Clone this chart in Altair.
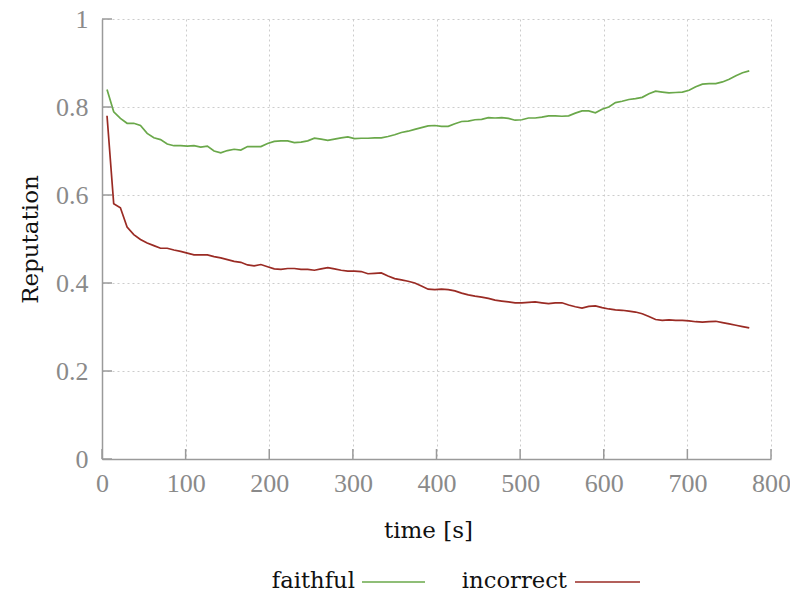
import altair as alt
import pandas as pd

# sample times [s]
time_s = [6 + 8 * k for k in range(97)]

faithful = [
    0.840, 0.789, 0.774, 0.763, 0.763, 0.758, 0.740, 0.730, 0.726, 0.716,
    0.712, 0.712, 0.711, 0.712, 0.709, 0.711, 0.700, 0.696, 0.701, 0.704,
    0.702, 0.710, 0.710, 0.710, 0.717, 0.722, 0.723, 0.723, 0.719, 0.720,
    0.723, 0.729, 0.727, 0.724, 0.727, 0.730, 0.732, 0.728, 0.729, 0.729,
    0.730, 0.730, 0.733, 0.737, 0.742, 0.745, 0.749, 0.753, 0.757, 0.758,
    0.756, 0.756, 0.762, 0.767, 0.768, 0.771, 0.772, 0.776, 0.775, 0.776,
    0.774, 0.770, 0.771, 0.775, 0.775, 0.777, 0.780, 0.780, 0.779, 0.780,
    0.786, 0.791, 0.791, 0.787, 0.795, 0.800, 0.810, 0.813, 0.817, 0.819,
    0.822, 0.830, 0.836, 0.834, 0.832, 0.833, 0.834, 0.838, 0.846, 0.852,
    0.853, 0.853, 0.857, 0.863, 0.871, 0.878, 0.882,
]

incorrect = [
    0.780, 0.580, 0.571, 0.527, 0.510, 0.499, 0.491, 0.485, 0.479, 0.479,
    0.475, 0.472, 0.468, 0.464, 0.464, 0.464, 0.460, 0.457, 0.453, 0.449,
    0.447, 0.441, 0.439, 0.442, 0.437, 0.432, 0.431, 0.433, 0.433, 0.431,
    0.431, 0.429, 0.432, 0.435, 0.432, 0.429, 0.427, 0.427, 0.426, 0.421,
    0.422, 0.423, 0.416, 0.410, 0.407, 0.404, 0.400, 0.393, 0.386, 0.385,
    0.386, 0.385, 0.382, 0.377, 0.373, 0.370, 0.368, 0.365, 0.361, 0.359,
    0.357, 0.355, 0.355, 0.356, 0.357, 0.355, 0.353, 0.355, 0.355, 0.350,
    0.346, 0.343, 0.347, 0.348, 0.344, 0.341, 0.339, 0.338, 0.336, 0.334,
    0.330, 0.324, 0.317, 0.315, 0.316, 0.315, 0.315, 0.314, 0.312, 0.311,
    0.312, 0.313, 0.310, 0.307, 0.304, 0.301, 0.298,
]

series_names = ["faithful", "incorrect"]
series_colors = ["#6aa84a", "#9a2b24"]

x_ticks = [0, 100, 200, 300, 400, 500, 600, 700, 800]
y_ticks = [0, 0.2, 0.4, 0.6, 0.8, 1.0]

W, H = 669, 440
AXIS_GREY = "#9a9a9a"
LABEL_GREY = "#8a8a8a"
TITLE_FONT = "DejaVu Serif"
LABEL_FONT = "Liberation Serif, Times New Roman, serif"

df = pd.DataFrame(
    {
        "time": time_s * 2,
        "value": faithful + incorrect,
        "series": ["faithful"] * len(time_s) + ["incorrect"] * len(time_s),
    }
)

x_scale = alt.Scale(domain=[0, 800], nice=False, zero=False)
y_scale = alt.Scale(domain=[0, 1], nice=False)

common_axis = dict(
    titleFont=TITLE_FONT,
    titleFontSize=23,
    titleFontWeight="normal",
    titleColor="#111",
    titleAlign="center",
    titleBaseline="middle",
    labelFont=LABEL_FONT,
    labelFontSize=26,
    labelColor=LABEL_GREY,
    labelFlush=False,
    labelOverlap=False,
    tickSize=0,
    domainColor=AXIS_GREY,
    domainWidth=1.5,
    grid=True,
    gridColor="#cccccc",
    gridDash=[2, 3],
    gridWidth=1,
)

x_axis = alt.Axis(
    values=x_ticks,
    title="time [s]",
    titleX=326,
    titleY=71,
    labelPadding=11,
    **common_axis,
)

y_axis = alt.Axis(
    values=y_ticks,
    format="~g",
    title="Reputation",
    titleX=-72,
    titleY=220,
    titleAngle=270,
    labelPadding=14,
    **common_axis,
)

lines = (
    alt.Chart(df)
    .mark_line(strokeWidth=1.7, clip=False)
    .encode(
        x=alt.X("time:Q", scale=x_scale, axis=x_axis),
        y=alt.Y("value:Q", scale=y_scale, axis=y_axis),
        color=alt.Color(
            "series:N",
            scale=alt.Scale(domain=series_names, range=series_colors),
            legend=None,
        ),
    )
)

# inward-pointing ticks on both axes
y_tick_marks = (
    alt.Chart(pd.DataFrame({"value": y_ticks}))
    .mark_rule(color=AXIS_GREY, strokeWidth=1.5)
    .encode(y=alt.Y("value:Q", scale=y_scale, axis=y_axis), x=alt.value(0), x2=alt.value(10))
)
x_tick_marks = (
    alt.Chart(pd.DataFrame({"time": x_ticks}))
    .mark_rule(color=AXIS_GREY, strokeWidth=1.5)
    .encode(x=alt.X("time:Q", scale=x_scale, axis=x_axis), y=alt.value(H), y2=alt.value(H - 10))
)

# legend below the plot: label first, then a line sample
def legend_entry(name, color, text_right, line_x0, line_x1):
    label = (
        alt.Chart(pd.DataFrame({"series": [name]}))
        .mark_text(
            font=TITLE_FONT,
            fontSize=22.7,
            color="#111",
            align="right",
            baseline="middle",
        )
        .encode(text="series:N", x=alt.value(text_right), y=alt.value(562))
    )
    sample = (
        alt.Chart(pd.DataFrame({"series": [name]}))
        .mark_rule(color=color, strokeWidth=1.7)
        .encode(x=alt.value(line_x0), x2=alt.value(line_x1), y=alt.value(563))
    )
    return label + sample

legend_faithful = legend_entry("faithful", series_colors[0], 253, 260, 323)
legend_incorrect = legend_entry("incorrect", series_colors[1], 465, 473, 538)

chart = (
    alt.layer(lines, y_tick_marks, x_tick_marks, legend_faithful, legend_incorrect)
    .properties(
        width=W,
        height=H,
        autosize=alt.AutoSizeParams(type="none"),
        padding={"left": 102, "top": 19, "right": 19, "bottom": 134},
    )
    .configure(background="white")
    .configure_view(stroke=None)
)

chart.save("out.html", embed_options={"renderer": "svg", "actions": False})
